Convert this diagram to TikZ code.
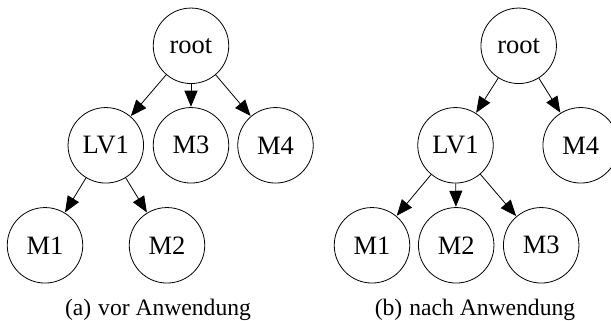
\documentclass[tikz,border=0pt]{standalone}
\usepackage{fontspec}
\setmainfont{Liberation Serif}
\usetikzlibrary{arrows.meta}
\tikzset{
  tnode/.style={draw, circle, minimum size=75.5pt, inner sep=0pt, line width=0.8pt, font=\fontsize{26.5}{30}\selectfont},
  treeedge/.style={line width=0.8pt, -{Triangle[length=16pt,width=13pt]}, shorten >=0.4pt},
  captext/.style={font=\fontsize{23.6}{27}\selectfont}
}
\begin{document}
\begin{tikzpicture}[x=1pt,y=-1pt]
\useasboundingbox (0,0) rectangle (611,321);
% left tree
\node[tnode] (aroot) at (191,45.8) {root};
\node[tnode] (alv1) at (105.8,145.3) {LV1};
\node[tnode] (am3) at (191,145.3) {M3};
\node[tnode] (am4) at (275.5,145.3) {M4};
\node[tnode] (am1) at (45,245.3) {M1};
\node[tnode] (am2) at (167,245.3) {M2};
\draw[treeedge] (aroot) -- (alv1);
\draw[treeedge] (aroot) -- (am3);
\draw[treeedge] (aroot) -- (am4);
\draw[treeedge] (alv1) -- (am1);
\draw[treeedge] (alv1) -- (am2);
\node[captext] (capa) at (158,310) {(a)\hspace{7pt}vor Anwendung};
% right tree
\node[tnode] (broot) at (518.7,45.8) {root};
\node[tnode] (blv1) at (455.5,145.3) {LV1};
\node[tnode] (bm4) at (580.7,145.3) {M4};
\node[tnode] (bm1) at (372,245.3) {M1};
\node[tnode] (bm2) at (456.2,245.3) {M2};
\node[tnode] (bm3) at (541.2,245.3) {M3};
\draw[treeedge] (broot) -- (blv1);
\draw[treeedge] (broot) -- (bm4);
\draw[treeedge] (blv1) -- (bm1);
\draw[treeedge] (blv1) -- (bm2);
\draw[treeedge] (blv1) -- (bm3);
\node[captext] (capb) at (475,310) {(b)\hspace{7pt}nach Anwendung};
\end{tikzpicture}
\end{document}
